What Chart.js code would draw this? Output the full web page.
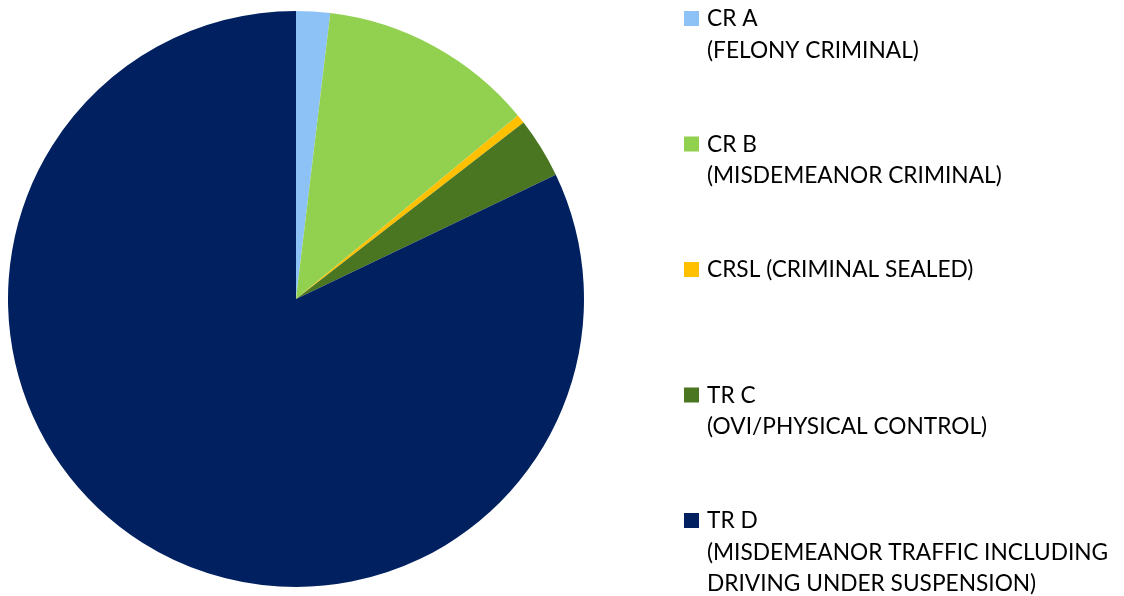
<!DOCTYPE html>
<html lang="en">
<head>
  <meta charset="UTF-8" />
  <title>Case Types</title>
  <script src="https://cdn.jsdelivr.net/npm/chart.js"></script>
  <style>
    body {
      margin: 0;
      background: #fff;
    }

    #wrap {
      width: 1124px;
      height: 596px;
      position: relative;
    }
  </style>
</head>
<body>

<div id="wrap">
  <canvas id="caseChart" width="1124" height="596"></canvas>
</div>

<script>
  // case types, each legend entry split into lines
  const categories = [
    ["CR A", "(FELONY CRIMINAL)"],
    ["CR B", "(MISDEMEANOR CRIMINAL)"],
    ["CRSL (CRIMINAL SEALED)"],
    ["TR C", "(OVI/PHYSICAL CONTROL)"],
    ["TR D", "(MISDEMEANOR TRAFFIC INCLUDING", "DRIVING UNDER SUSPENSION)"]
  ];
  const shares = [1.9, 12.1, 0.5, 3.4, 82.1];
  const colors = ["#8DC2F7", "#92D050", "#FFC000", "#4A7521", "#002060"];

  // draws the legend on the right, one slot per category
  const sideLegend = {
    id: "sideLegend",
    afterDraw(chart) {
      const ctx = chart.ctx;
      const ds = chart.data.datasets[0];
      ctx.save();
      ctx.font = "22.7px Lato";
      ctx.textBaseline = "alphabetic";
      chart.data.labels.forEach((lines, i) => {
        const base = 26 + i * 125.5;
        ctx.fillStyle = ds.backgroundColor[i];
        ctx.fillRect(684, base - 15, 15, 15);
        ctx.fillStyle = "#000";
        lines.forEach((line, j) => {
          ctx.fillText(line, 707, base + j * 31.5);
        });
      });
      ctx.restore();
    }
  };

  new Chart(document.getElementById("caseChart"), {
    type: "pie",
    data: {
      labels: categories,
      datasets: [{
        data: shares,
        backgroundColor: colors,
        borderWidth: 0
      }]
    },
    options: {
      responsive: false,
      animation: false,
      layout: {
        padding: { left: 8, right: 540, top: 11, bottom: 9 }
      },
      plugins: {
        legend: { display: false },
        tooltip: { enabled: false }
      }
    },
    plugins: [sideLegend]
  });
</script>

</body>
</html>
